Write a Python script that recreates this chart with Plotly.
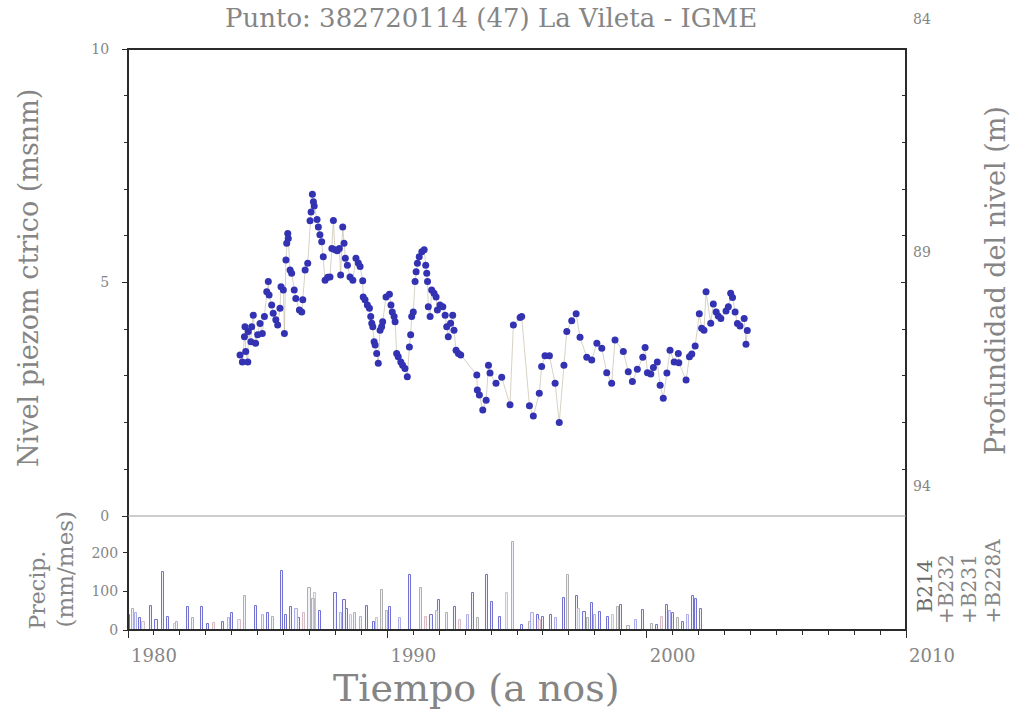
import plotly.graph_objects as go

# ---- Piezometric level series (year, metres above sea level) ----
level_year = [
    1984.32, 1984.41, 1984.49, 1984.51, 1984.54, 1984.62, 1984.64, 1984.74, 1984.77, 1984.83,
    1984.92, 1985.00, 1985.09, 1985.18, 1985.26, 1985.35, 1985.41, 1985.44, 1985.54, 1985.60,
    1985.70, 1985.77, 1985.86, 1985.90, 1985.99, 1986.03, 1986.09, 1986.12, 1986.16, 1986.18,
    1986.25, 1986.31, 1986.41, 1986.47, 1986.61, 1986.70, 1986.74, 1986.83, 1986.93, 1987.02,
    1987.06, 1987.11, 1987.15, 1987.18, 1987.29, 1987.34, 1987.40, 1987.47, 1987.53, 1987.60,
    1987.70, 1987.79, 1987.86, 1987.92, 1987.98, 1988.07, 1988.15, 1988.20, 1988.28, 1988.33,
    1988.38, 1988.46, 1988.56, 1988.67, 1988.79, 1988.88, 1988.95, 1989.05, 1989.07, 1989.14,
    1989.23, 1989.31, 1989.36, 1989.40, 1989.44, 1989.49, 1989.53, 1989.59, 1989.65, 1989.72,
    1989.78, 1989.82, 1989.95, 1990.08, 1990.14, 1990.19, 1990.26, 1990.30, 1990.36, 1990.42,
    1990.52, 1990.59, 1990.68, 1990.77, 1990.85, 1990.90, 1990.94, 1991.00, 1991.07, 1991.11,
    1991.16, 1991.23, 1991.33, 1991.42, 1991.48, 1991.52, 1991.55, 1991.58, 1991.65, 1991.71,
    1991.80, 1991.88, 1991.93, 1992.03, 1992.14, 1992.23, 1992.29, 1992.35, 1992.44, 1992.52,
    1992.57, 1992.65, 1992.74, 1992.83, 1993.45, 1993.47, 1993.55, 1993.68, 1993.81, 1993.90,
    1993.96, 1994.19, 1994.41, 1994.73, 1994.86, 1995.12, 1995.18, 1995.48, 1995.63, 1995.86,
    1995.95, 1996.08, 1996.25, 1996.47, 1996.63, 1996.81, 1996.92, 1997.11, 1997.28, 1997.43,
    1997.69, 1997.88, 1998.08, 1998.27, 1998.46, 1998.65, 1998.78, 1999.10, 1999.29, 1999.45,
    1999.64, 1999.85, 1999.94, 2000.03, 2000.16, 2000.26, 2000.41, 2000.52, 2000.64, 2000.78,
    2000.90, 2001.06, 2001.22, 2001.24, 2001.52, 2001.65, 2001.74, 2001.87, 2002.03, 2002.12,
    2002.21, 2002.29, 2002.47, 2002.57, 2002.68, 2002.76, 2002.86, 2003.06, 2003.15, 2003.24,
    2003.31, 2003.41, 2003.50, 2003.60, 2003.76, 2003.83, 2003.88,
]
level_m = [
    3.45, 3.30, 3.84, 4.05, 3.52, 3.30, 3.95, 3.73, 4.05, 4.30,
    3.70, 3.88, 4.12, 3.91, 4.27, 4.80, 5.02, 4.73, 4.52, 4.34,
    4.20, 4.09, 4.45, 4.91, 4.84, 3.91, 5.48, 5.84, 6.05, 5.94,
    5.27, 5.20, 4.84, 4.66, 4.41, 4.37, 4.63, 5.27, 5.41, 6.32,
    6.51, 6.89, 6.73, 6.64, 6.35, 6.19, 6.02, 5.87, 5.55, 5.05,
    5.11, 5.12, 5.73, 6.33, 5.70, 5.68, 5.73, 5.16, 6.19, 5.84,
    5.52, 5.37, 5.12, 5.05, 5.52, 5.42, 5.34, 5.04, 4.69, 4.63,
    4.52, 4.45, 4.27, 4.13, 4.05, 3.73, 3.66, 3.48, 3.27, 3.98,
    4.05, 4.16, 4.69, 4.75, 4.52, 4.37, 4.27, 4.16, 3.48, 3.41,
    3.30, 3.23, 3.16, 2.98, 3.62, 3.88, 4.27, 4.37, 5.02, 5.23,
    5.41, 5.55, 5.66, 5.70, 5.37, 5.20, 5.02, 4.48, 4.27, 4.84,
    4.77, 4.69, 4.41, 4.52, 4.48, 4.30, 4.05, 3.84, 4.13, 4.30,
    3.98, 3.55, 3.48, 3.45, 3.02, 2.70, 2.59, 2.27, 2.48, 3.23,
    3.06, 2.84, 2.97, 2.38, 4.09, 4.25, 4.27, 2.36, 2.14, 2.63,
    3.20, 3.43, 3.43, 2.84, 2.00, 3.23, 3.95, 4.18, 4.33, 3.83,
    3.40, 3.34, 3.70, 3.59, 3.07, 2.84, 3.77, 3.52, 3.09, 2.88,
    3.14, 3.40, 3.61, 3.07, 3.04, 3.18, 3.30, 2.80, 2.52, 3.06,
    3.55, 3.30, 3.48, 3.28, 2.91, 3.41, 3.47, 3.64, 4.33, 4.02,
    3.98, 4.80, 4.13, 4.54, 4.37, 4.28, 4.23, 4.39, 4.48, 4.77,
    4.68, 4.37, 4.12, 4.07, 4.23, 3.68, 3.97,
]
# Ground reference: depth (m) = 94 - level
ground_ref = 94.0

# ---- Monthly precipitation (mm/month) per station ----
b214_year = [1980.05, 1980.45, 1980.9, 1981.1, 1981.35, 1981.55, 1982.3, 1982.85, 1983.1, 1983.65,
             1984.0, 1984.95, 1985.4, 1985.95, 1986.1, 1986.3, 1986.6, 1987.4, 1988.0, 1988.35,
             1988.45, 1989.2, 1989.5, 1990.1, 1990.88, 1991.7, 1992.0, 1992.6, 1993.3, 1993.85,
             1994.05, 1994.35, 1995.2, 1995.8, 1996.0, 1996.3, 1996.8, 1997.3, 1997.6, 1997.9,
             1998.2, 1998.5, 1999.0, 1999.85, 2000.4, 2000.8, 2001.0, 2001.4, 2001.8, 2001.9, 2002.1]
b214_mm = [40, 30, 62, 25, 150, 35, 60, 60, 15, 20,
           43, 62, 43, 152, 40, 60, 30, 50, 95, 78,
           55, 62, 20, 60, 143, 40, 78, 60, 95, 143,
           74, 35, 13, 38, 35, 40, 83, 87, 48, 70,
           48, 35, 65, 52, 13, 65, 44, 22, 87, 80, 55]

b232_year = [1980.2, 1982.5, 1984.5, 1985.6, 1987.0, 1987.15, 1988.75, 1989.8, 1990.0, 1991.3,
             1992.3, 1993.5, 1994.85, 1995.5, 1996.97, 1997.75, 1998.9, 1999.3, 2000.2, 2001.2]
b232_mm = [55, 30, 87, 35, 110, 80, 45, 104, 50, 108,
           45, 30, 228, 20, 143, 30, 60, 10, 15, 30]

b231_year = [1980.6, 1981.8, 1983.3, 1984.3, 1986.8, 1987.2, 1988.6, 1989.6, 1991.5, 1992.8,
             1994.6, 1995.9, 1997.4, 1998.7, 2000.6]
b231_mm = [20, 15, 18, 25, 45, 95, 40, 30, 35, 25,
           95, 25, 55, 40, 35]

b228a_year = [1980.3, 1981.9, 1983.9, 1985.2, 1986.5, 1988.2, 1989.0, 1990.5, 1991.9, 1993.1,
              1995.6, 1996.5, 1998.0, 1999.6, 2000.9, 2001.6]
b228a_mm = [45, 20, 30, 40, 55, 45, 35, 30, 50, 40,
            45, 30, 40, 25, 50, 40]

station_names = ["B214", "B232", "B231", "B228A"]
station_colors = ["#7373d2", "#b0b0b0", "#d9bcc6", "#aeaee8"]

# ---- Page geometry (pixels) ----
W, H = 1014, 713
L, R, T, B = 128, 906, 49, 630
SPLIT = 516  # boundary between level panel and precipitation panel


def fx(px):
    return (px - L) / (R - L)


def fy(py):
    return (B - py) / (B - T)


split_frac = fy(SPLIT)
GREY = "#858585"
DARK = "#2b2b2b"
SERIF = "DejaVu Serif"

fig = go.Figure()

# Precipitation bars (month-wide outlines)
for name, xs, ys, col in zip(
    station_names,
    [b214_year, b232_year, b231_year, b228a_year],
    [b214_mm, b232_mm, b231_mm, b228a_mm],
    station_colors,
):
    fig.add_trace(go.Bar(
        x=xs, y=ys, width=1 / 12, name=name, xaxis="x", yaxis="y3",
        marker=dict(color="rgba(205,205,240,0.25)", line=dict(color=col, width=1)),
        showlegend=False, hoverinfo="skip",
    ))

# Water level
fig.add_trace(go.Scatter(
    x=level_year, y=level_m, mode="lines+markers", xaxis="x", yaxis="y",
    line=dict(color="rgba(185,175,150,0.7)", width=0.8),
    marker=dict(color="#3232b2", size=7),
    showlegend=False,
))

# Depth scale carrier on the right axis
fig.add_trace(go.Scatter(
    x=level_year, y=[ground_ref - v for v in level_m], mode="markers",
    xaxis="x", yaxis="y2", marker=dict(opacity=0), showlegend=False, hoverinfo="skip",
))

tickfont = dict(family=SERIF, size=14, color=GREY)

fig.update_layout(
    width=W, height=H,
    margin=dict(l=L, r=W - R, t=T, b=H - B, pad=0),
    paper_bgcolor="white", plot_bgcolor="white",
    barmode="overlay", bargap=0,
    xaxis=dict(
        range=[1980, 2010], domain=[0, 1], anchor="y3",
        tickvals=[1980, 1990, 2000, 2010], ticktext=["1980", "1990", "2000", "2010"],
        ticks="outside", ticklen=7, tickcolor=DARK, tickwidth=1,
        minor=dict(dtick=1, tick0=1980, ticks="outside", ticklen=4, tickcolor=DARK),
        ticklabelshift=26, ticklabelstandoff=2,
        tickfont=dict(family=SERIF, size=18, color=GREY),
        showgrid=False, zeroline=False, showline=False,
    ),
    yaxis=dict(
        range=[0, 10], domain=[split_frac, 1], anchor="x",
        tickvals=[0, 5, 10], ticks="outside", ticklen=5, tickcolor=DARK,
        minor=dict(dtick=1, tick0=0, ticks="outside", ticklen=3, tickcolor=DARK),
        ticklabelstandoff=10, tickfont=tickfont,
        showgrid=False, zeroline=False, showline=False,
    ),
    yaxis2=dict(
        range=[94, 84], overlaying="y", side="right", anchor="x",
        tickvals=[84, 89, 94], ticks="inside", ticklen=5, tickcolor=DARK,
        minor=dict(dtick=1, tick0=84, ticks="inside", ticklen=4, tickcolor=DARK),
        ticklabelshift=30, ticklabelstandoff=6, tickfont=tickfont,
        showgrid=False, zeroline=False, showline=False,
    ),
    yaxis3=dict(
        range=[0, 296], domain=[0, split_frac], anchor="x",
        tickvals=[0, 100, 200], ticks="outside", ticklen=4, tickcolor=DARK,
        ticklabelstandoff=2, tickfont=tickfont,
        showgrid=False, zeroline=False, showline=False,
    ),
)

# Frame and panel separator
fig.add_shape(type="rect", xref="paper", yref="paper", x0=0, x1=1, y0=0, y1=1,
              line=dict(color=DARK, width=2), layer="above")
fig.add_shape(type="line", xref="paper", yref="paper", x0=0, x1=1.0,
              y0=split_frac, y1=split_frac, line=dict(color="#9a9a9a", width=1))

ann = []


def text(s, px, py, size, angle=0, xa="center", ya="middle", color=GREY):
    ann.append(dict(text=s, x=fx(px), y=fy(py), xref="paper", yref="paper",
                    showarrow=False, textangle=angle, xanchor=xa, yanchor=ya,
                    font=dict(family=SERIF, size=size, color=color)))


text("Punto: 382720114 (47) La Vileta - IGME", 491, 18, 26)
text("Tiempo (a nos)", 476, 688, 38)
text("Nivel piezom ctrico (msnm)", 28, 278, 27, angle=-90)
text("Profundidad del nivel (m)", 995, 281, 27, angle=-90)
text("Precip.", 37, 632, 22, angle=-90, ya="bottom")
text("(mm/mes)", 64, 630, 23, angle=-90, ya="bottom")

legend_x = [924, 946, 969, 992]
legend_txt = ["B214", "+B232", "+B231", "+B228A"]
legend_col = ["#6a6a6a", GREY, GREY, GREY]
for lx, lt, lc in zip(legend_x, legend_txt, legend_col):
    text(lt, lx, 626 if lt.startswith("+") else 614, 20, angle=-90, ya="bottom", color=lc)

fig.update_layout(annotations=ann)

fig.write_html("out.html")
